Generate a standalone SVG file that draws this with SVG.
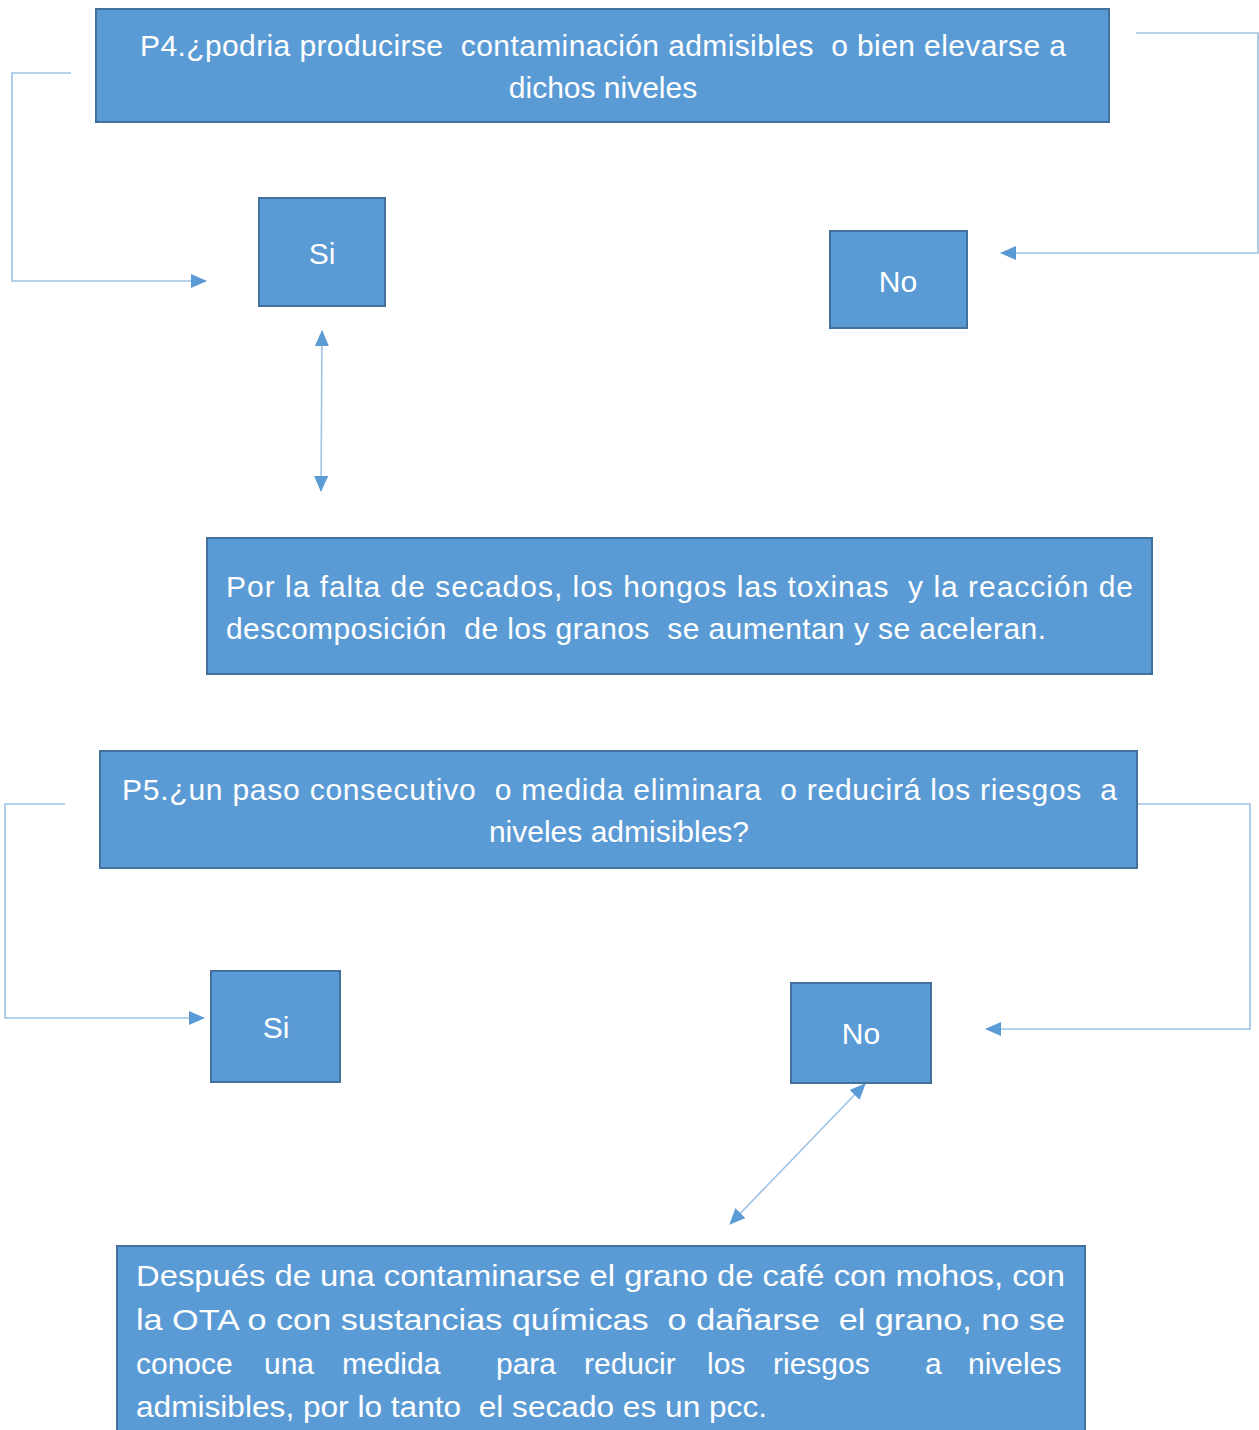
<svg xmlns="http://www.w3.org/2000/svg" width="1259" height="1430" viewBox="0 0 1259 1430">
<style>
.box{fill:#5b9bd5;stroke:#41719c;stroke-width:2}
.t{font-family:"Liberation Sans",Arial,sans-serif;font-size:30px;fill:#ffffff}
.c{text-anchor:middle}
.ln{fill:none;stroke:#9dc3e6;stroke-width:1.6}
</style>
<defs>
<marker id="arr" markerUnits="userSpaceOnUse" markerWidth="16" markerHeight="14" refX="15" refY="7" orient="auto-start-reverse" viewBox="0 0 16 14">
<path d="M0,0 L16,7 L0,14 z" fill="#5b9bd5"/>
</marker>
</defs>
<rect width="1259" height="1430" fill="#ffffff"/>
<g id="connectors">
<polyline class="ln" points="71,73 12,73 12,281 206,281" marker-end="url(#arr)"/>
<polyline class="ln" points="1136,33 1258,33 1258,253 1001,253" marker-end="url(#arr)"/>
<line class="ln" x1="322" y1="331" x2="321" y2="491" marker-start="url(#arr)" marker-end="url(#arr)"/>
<polyline class="ln" points="65,804 5,804 5,1018 204,1018" marker-end="url(#arr)"/>
<polyline class="ln" points="1137,804 1250,804 1250,1029 986,1029" marker-end="url(#arr)"/>
<line class="ln" x1="865" y1="1084" x2="730" y2="1224" marker-start="url(#arr)" marker-end="url(#arr)"/>
</g>
<g id="p4">
<rect class="box" x="96" y="9" width="1013" height="113"/>
<text class="t" x="140" y="56" textLength="926" lengthAdjust="spacing" xml:space="preserve">P4.¿podria producirse  contaminación admisibles  o bien elevarse a</text>
<text class="t c" x="603" y="98">dichos niveles</text>
</g>
<g id="si1">
<rect class="box" x="259" y="198" width="126" height="108"/>
<text class="t c" x="322" y="264">Si</text>
</g>
<g id="no1">
<rect class="box" x="830" y="231" width="137" height="97"/>
<text class="t c" x="898" y="292">No</text>
</g>
<g id="explica1">
<rect class="box" x="207" y="538" width="945" height="136"/>
<text class="t" x="226" y="597" textLength="907" lengthAdjust="spacing" xml:space="preserve">Por la falta de secados, los hongos las toxinas  y la reacción de</text>
<text class="t" x="226" y="639" textLength="820" lengthAdjust="spacing" xml:space="preserve">descomposición  de los granos  se aumentan y se aceleran.</text>
</g>
<g id="p5">
<rect class="box" x="100" y="751" width="1037" height="117"/>
<text class="t" x="122" y="800" textLength="995" lengthAdjust="spacing" xml:space="preserve">P5.¿un paso consecutivo  o medida eliminara  o reducirá los riesgos  a</text>
<text class="t c" x="619" y="842">niveles admisibles?</text>
</g>
<g id="si2">
<rect class="box" x="211" y="971" width="129" height="111"/>
<text class="t c" x="276" y="1038">Si</text>
</g>
<g id="no2">
<rect class="box" x="791" y="983" width="140" height="100"/>
<text class="t c" x="861" y="1044">No</text>
</g>
<g id="explica2">
<rect class="box" x="117" y="1246" width="968" height="200"/>
<text class="t" x="136" y="1286" textLength="929" lengthAdjust="spacingAndGlyphs" xml:space="preserve">Después de una contaminarse el grano de café con mohos, con</text>
<text class="t" x="136" y="1330" textLength="929" lengthAdjust="spacingAndGlyphs" xml:space="preserve">la OTA o con sustancias químicas  o dañarse  el grano, no se</text>
<text class="t" y="1374"><tspan x="136">conoce</tspan> <tspan x="264">una</tspan> <tspan x="342">medida</tspan> <tspan x="496">para</tspan> <tspan x="584">reducir</tspan> <tspan x="707">los</tspan> <tspan x="773">riesgos</tspan> <tspan x="925">a</tspan> <tspan x="968">niveles</tspan></text>
<text class="t" x="136" y="1417" textLength="631" lengthAdjust="spacingAndGlyphs" xml:space="preserve">admisibles, por lo tanto  el secado es un pcc.</text>
</g>
</svg>
